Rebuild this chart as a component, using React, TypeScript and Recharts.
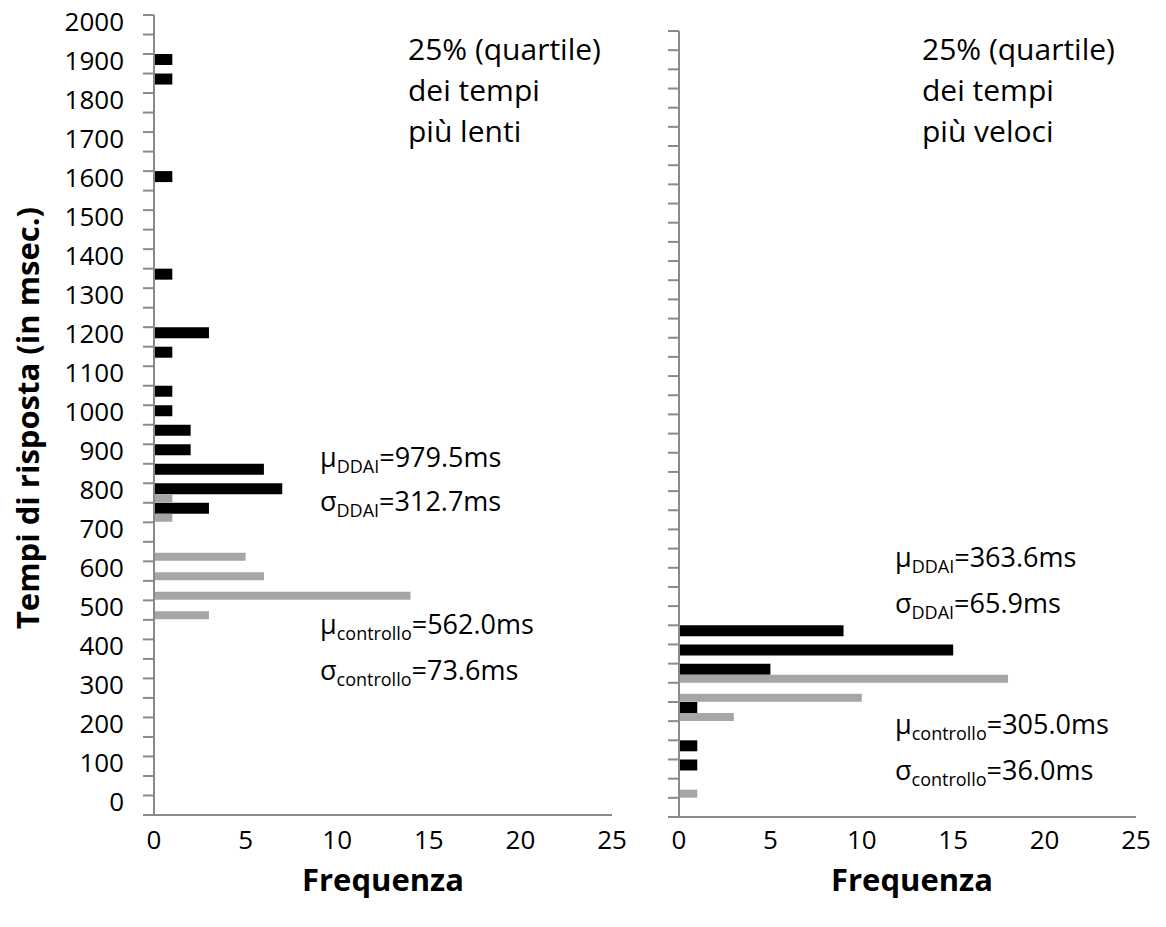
import { BarChart, Bar, XAxis, YAxis } from 'recharts'

// response-time bins (ms), bottom to top
const bins = [
  0, 50, 100, 150, 200, 250, 300, 350, 400, 450,
  500, 550, 600, 650, 700, 750, 800, 850, 900, 950,
  1000, 1050, 1100, 1150, 1200, 1250, 1300, 1350, 1400, 1450,
  1500, 1550, 1600, 1650, 1700, 1750, 1800, 1850, 1900, 1950,
  2000,
]

// 25% slowest responses
const slowDdai = [
  0, 0, 0, 0, 0, 0, 0, 0, 0, 0,
  0, 0, 0, 0, 0, 3, 7, 6, 2, 2,
  1, 1, 0, 1, 3, 0, 0, 1, 0, 0,
  0, 0, 1, 0, 0, 0, 0, 1, 1, 0,
  0,
]
const slowCtrl = [
  0, 0, 0, 0, 0, 0, 0, 0, 0, 0,
  3, 14, 6, 5, 0, 1, 1, 0, 0, 0,
  0, 0, 0, 0, 0, 0, 0, 0, 0, 0,
  0, 0, 0, 0, 0, 0, 0, 0, 0, 0,
  0,
]

// 25% fastest responses
const fastDdai = [
  0, 0, 1, 1, 0, 1, 0, 5, 15, 9,
  0, 0, 0, 0, 0, 0, 0, 0, 0, 0,
  0, 0, 0, 0, 0, 0, 0, 0, 0, 0,
  0, 0, 0, 0, 0, 0, 0, 0, 0, 0,
  0,
]
const fastCtrl = [
  0, 1, 0, 0, 0, 3, 10, 18, 0, 0,
  0, 0, 0, 0, 0, 0, 0, 0, 0, 0,
  0, 0, 0, 0, 0, 0, 0, 0, 0, 0,
  0, 0, 0, 0, 0, 0, 0, 0, 0, 0,
  0,
]

const freqTicks = [0, 5, 10, 15, 20, 25]

const slowStats = [
  { sym: 'μ', group: 'DDAI', value: '=979.5ms' },
  { sym: 'σ', group: 'DDAI', value: '=312.7ms' },
  { sym: 'μ', group: 'controllo', value: '=562.0ms' },
  { sym: 'σ', group: 'controllo', value: '=73.6ms' },
]
const fastStats = [
  { sym: 'μ', group: 'DDAI', value: '=363.6ms' },
  { sym: 'σ', group: 'DDAI', value: '=65.9ms' },
  { sym: 'μ', group: 'controllo', value: '=305.0ms' },
  { sym: 'σ', group: 'controllo', value: '=36.0ms' },
]

const slowTitle = ['25% (quartile)', 'dei tempi', 'più lenti']
const fastTitle = ['25% (quartile)', 'dei tempi', 'più veloci']

const FONT = '"Open Sans", sans-serif'
const AXIS = '#8a8a8a'
const X_AXIS_H = 40

function BinTick(props: any) {
  const { x, y, payload, band, showLabels } = props
  const v = Number(payload.value)
  const lo = y + band / 2
  const hi = y - band / 2
  return (
    <g>
      <line x1={x - 11} x2={x} y1={lo} y2={lo} stroke={AXIS} strokeWidth={2} />
      {v === bins[bins.length - 1] && (
        <line x1={x - 11} x2={x} y1={hi} y2={hi} stroke={AXIS} strokeWidth={2} />
      )}
      {showLabels && v % 100 === 0 && (
        <text x={x - 30} y={y + 6} textAnchor="end" fontSize={26} fontFamily={FONT} fill="#000">
          {v}
        </text>
      )}
    </g>
  )
}

interface HistProps {
  ddai: number[]
  ctrl: number[]
  left: number
  width: number
  height: number
  margin: { top: number; right: number; bottom: number; left: number }
  axisWidth: number
  showLabels: boolean
  tickMargin: number
}

function Histogram({ ddai, ctrl, left, width, height, margin, axisWidth, showLabels, tickMargin }: HistProps) {
  const data = bins.map((bin, i) => ({ bin, ddai: ddai[i], ctrl: ctrl[i] }))
  const band = (height - margin.top - margin.bottom - X_AXIS_H) / bins.length
  return (
    <div style={{ position: 'absolute', left, top: 0 }}>
      <BarChart
        layout="vertical"
        width={width}
        height={height}
        data={data}
        margin={margin}
        barCategoryGap={0}
        barGap={0}
      >
        <XAxis
          type="number"
          domain={[0, 25]}
          ticks={freqTicks}
          interval={0}
          height={X_AXIS_H}
          tickLine={false}
          tickSize={0}
          tickMargin={tickMargin}
          axisLine={{ stroke: AXIS, strokeWidth: 2 }}
          tick={{ fill: '#000', fontSize: 26, fontFamily: FONT }}
        />
        <YAxis
          type="category"
          dataKey="bin"
          reversed
          interval={0}
          width={axisWidth}
          tickLine={false}
          tickSize={0}
          tickMargin={0}
          axisLine={{ stroke: AXIS, strokeWidth: 2 }}
          tick={(p: any) => <BinTick {...p} band={band} showLabels={showLabels} />}
        />
        <Bar dataKey="ddai" fill="#000000" barSize={11} isAnimationActive={false} />
        <Bar dataKey="ctrl" fill="#a6a6a6" barSize={8} isAnimationActive={false} />
      </BarChart>
    </div>
  )
}

function Stats({ x, ys, stats }: { x: number; ys: number[]; stats: typeof slowStats }) {
  return (
    <>
      {stats.map((s, i) => (
        <text key={i} x={x} y={ys[i]} fontSize={27} fontFamily={FONT} fill="#000">
          {s.sym}
          <tspan fontSize={18} dy={6}>{s.group}</tspan>
          <tspan dy={-6}>{s.value}</tspan>
        </text>
      ))}
    </>
  )
}

function Header({ x, lines }: { x: number; lines: string[] }) {
  const ys = [60, 101, 142]
  return (
    <>
      {lines.map((t, i) => (
        <text key={i} x={x} y={ys[i]} fontSize={30} fontFamily={FONT} fill="#000">
          {t}
        </text>
      ))}
    </>
  )
}

export default function App() {
  return (
    <div style={{ position: 'absolute', left: 0, top: 0, width: 1166, height: 927, background: '#fff' }}>
      <Histogram
        ddai={slowDdai}
        ctrl={slowCtrl}
        left={0}
        width={640}
        height={927}
        margin={{ top: 15, right: 28, bottom: 72, left: 54 }}
        axisWidth={100}
        showLabels
        tickMargin={16}
      />
      <Histogram
        ddai={fastDdai}
        ctrl={fastCtrl}
        left={600}
        width={566}
        height={927}
        margin={{ top: 31, right: 30, bottom: 70, left: 0 }}
        axisWidth={79}
        showLabels={false}
        tickMargin={14}
      />
      <svg
        width={1166}
        height={927}
        style={{ position: 'absolute', left: 0, top: 0, pointerEvents: 'none' }}
      >
        <Header x={408} lines={slowTitle} />
        <Header x={922} lines={fastTitle} />
        <Stats x={320} ys={[467, 511, 634, 680]} stats={slowStats} />
        <Stats x={895} ys={[567, 613, 734, 780]} stats={fastStats} />
        <text
          transform="translate(39,418) rotate(-90)"
          textAnchor="middle"
          fontSize={31}
          fontWeight="bold"
          fontFamily={FONT}
          fill="#000"
        >
          Tempi di risposta (in msec.)
        </text>
        <text x={383} y={891} textAnchor="middle" fontSize={31} fontWeight="bold" fontFamily={FONT} fill="#000">
          Frequenza
        </text>
        <text x={912} y={891} textAnchor="middle" fontSize={31} fontWeight="bold" fontFamily={FONT} fill="#000">
          Frequenza
        </text>
      </svg>
    </div>
  )
}
